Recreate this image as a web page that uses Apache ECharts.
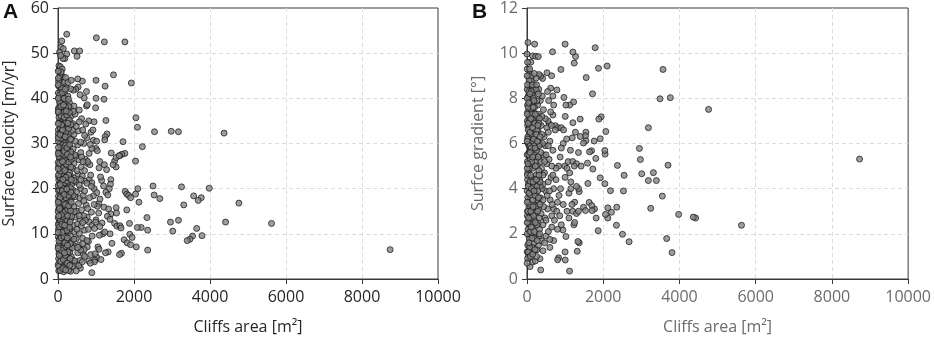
<!DOCTYPE html>
<html><head><meta charset="utf-8">
<script src="https://cdn.jsdelivr.net/npm/echarts@6/dist/echarts.min.js"></script>
<style>html,body{margin:0;padding:0;background:#fff}#c{width:934px;height:340px}</style>
</head><body><div id="c"></div>
<script>
// Panel A: cliffs area [m2] vs surface velocity [m/yr]
const xTicks = [0, 2000, 4000, 6000, 8000, 10000];
const velTicks = [0, 10, 20, 30, 40, 50, 60];
const gradTicks = [0, 2, 4, 6, 8, 10, 12];

const velocitySparse = [[8740,6.5],[5620,12.3],[4760,16.8],[4410,12.6],[4370,32.3],[3980,20.1],[3790,9.6],[3770,18.0],[3690,17.4],[3650,11.2],[3570,18.4],[3540,9.5],[3470,8.8],[3400,8.5],[3310,16.4],[3250,20.4],[3170,13.0],[3170,32.6],[2980,32.7],[3020,10.6],[2960,12.6],[2680,17.8],[2540,32.6],[2530,18.6],[2500,20.6],[2360,6.4],[2360,10.8],[2340,13.6],[2220,29.3],[2190,11.4],[2130,17.0],[2100,20.0],[2090,11.4],[2090,33.6],[2050,35.7],[2040,18.8],[2040,26.1],[2060,7.1],[1930,43.4],[1760,52.5],[1760,27.8],[1710,30.4],[1770,19.4],[1810,18.8],[1860,18.5],[1910,18.0],[1810,15.3],[1880,12.3],[1890,9.9],[1950,9.2],[1740,8.7],[1820,8.0],[1910,7.6],[1670,5.7],[1620,5.4],[1680,27.6],[1620,27.3],[1460,45.2],[1490,26.1],[1530,24.8],[1450,25.3],[1530,15.8],[1540,14.6],[1400,27.9],[1390,22.0],[1380,21.0],[1350,20.0],[1260,35.1],[1290,32.1],[1240,31.5],[1230,30.8],[1220,52.5],[1010,53.4],[1240,42.7],[1210,39.8],[1000,44.0],[1000,40.0],[990,37.9]];

const velocityMid = [[1000,28.9],[1035,28.4],[930,30.7],[1017,30.5],[1530,26.9],[1610,27.3],[1100,26.0],[1220,25.3],[1280,24.2],[1210,15.9],[1330,15.5],[1390,14.4],[1300,13.9],[1370,13.2],[1070,16.7],[1035,16.1],[1490,12.3],[1550,11.7],[1630,11.8],[1660,11.3],[1370,10.0],[1420,7.9],[1320,6.0],[1250,5.8],[1180,10.0],[1090,9.7],[1050,7.1],[1020,4.8],[965,4.2],[960,3.8],[860,5.4],[810,4.0],[890,1.4],[590,2.4],[580,4.1],[800,8.3],[770,7.1],[690,6.5],[670,5.4],[770,13.7],[820,12.6],[900,11.9],[960,11.2],[820,22.0],[890,21.3],[950,20.0],[1020,19.1],[930,18.4],[1105,17.7],[820,27.8],[890,28.9],[720,26.5],[770,25.6],[840,25.3],[810,35.0],[950,34.8],[730,34.3],[750,38.3],[690,40.1],[770,38.6],[1150,21.8],[1200,20.6],[1260,19.2],[1120,22.6],[1310,18.6],[1080,24.6],[1160,12.4],[1100,11.6],[1230,10.4],[1000,13.1],[1070,14.6]];

const velocityDense = [[20,1.8],[60,2.5],[150,1.6],[220,3.0],[330,1.7],[120,3.4],[40,3.6],[280,2.4],[470,3.3],[390,4.2],[15,4.5],[90,5.1],[180,4.6],[260,5.5],[350,5.0],[520,5.8],[440,4.0],[600,6.4],[30,6.2],[130,6.8],[210,7.1],[300,6.6],[410,7.4],[560,7.5],[50,7.9],[160,8.2],[240,8.6],[360,8.1],[480,8.9],[650,9.0],[10,9.3],[100,9.7],[190,9.9],[270,10.2],[330,9.5],[440,10.4],[560,10.1],[700,10.8],[40,10.9],[140,11.3],[220,11.6],[310,11.1],[400,11.9],[520,12.2],[610,11.7],[20,12.4],[80,12.8],[170,13.1],[250,12.9],[340,13.4],[460,13.7],[580,13.2],[680,14.0],[50,14.1],[120,14.5],[200,14.3],[290,14.8],[380,14.6],[500,15.0],[620,15.3],[15,15.4],[90,15.9],[160,16.2],[230,15.7],[320,16.4],[420,16.0],[540,16.7],[740,16.4],[35,16.9],[110,17.3],[190,17.6],[270,17.1],[350,17.8],[450,18.2],[580,17.9],[660,18.5],[10,18.3],[70,18.8],[140,19.1],[220,19.4],[300,18.9],[390,19.7],[490,19.3],[600,20.0],[40,20.2],[120,20.6],[200,20.9],[280,20.4],[370,21.1],[470,21.5],[560,20.8],[700,21.7],[20,21.9],[90,22.2],[170,22.6],[250,22.0],[330,22.9],[430,22.4],[530,23.2],[640,22.8],[50,23.5],[130,23.8],[210,24.2],[300,23.6],[390,24.5],[500,24.0],[610,24.8],[15,24.9],[80,25.3],[160,25.7],[240,25.1],[320,26.0],[420,25.6],[550,26.4],[40,26.6],[110,26.9],[190,27.3],[270,26.8],[360,27.6],[470,27.2],[600,28.0],[20,28.2],[70,28.6],[150,28.9],[230,28.4],[310,29.3],[400,28.8],[520,29.7],[50,29.9],[120,30.3],[200,30.6],[280,30.1],[360,31.0],[460,30.5],[30,31.4],[90,31.8],[170,32.2],[250,31.6],[330,32.5],[420,32.0],[540,32.8],[10,33.0],[60,33.4],[140,33.7],[220,33.2],[300,34.0],[390,34.4],[480,33.8],[40,34.9],[110,35.3],[190,35.0],[270,35.6],[350,36.1],[450,36.5],[20,36.7],[80,37.2],[160,36.9],[240,37.6],[320,38.0],[420,38.3],[50,38.6],[130,39.0],[210,39.4],[300,39.1],[30,40.2],[100,40.6],[180,41.0],[260,40.5],[60,41.5],[140,41.9],[230,42.3],[20,42.7],[90,43.1],[170,43.6],[40,44.2],[120,44.8],[70,45.5],[30,46.3],[5,3.2],[25,5.6],[8,7.3],[45,8.9],[12,11.0],[30,13.3],[6,14.9],[55,16.1],[18,17.5],[8,19.6],[35,21.0],[12,22.7],[60,24.1],[5,25.8],[28,27.5],[10,29.1],[45,30.8],[8,32.1],[25,35.8],[12,37.8],[35,39.3],[8,41.2],[15,43.8],[50,45.0],[25,47.2],[60,47.0],[230,54.2],[100,52.7],[80,51.3],[140,51.0],[40,50.2],[430,50.5],[570,50.5],[500,49.3],[230,49.8],[180,48.8],[130,48.8],[640,43.8],[530,42.5],[470,42.0],[750,41.5],[400,41.8],[580,40.8],[870,32.5],[920,33.0],[760,31.3],[680,30.0],[850,29.8],[620,27.0],[780,26.0],[700,24.0],[860,23.0],[760,21.2],[880,20.5],[700,19.5],[830,18.0],[950,16.5],[780,15.6],[880,14.8],[720,13.0],[990,12.6],[650,12.5],[800,11.0],[900,9.5],[760,8.5],[650,7.8],[700,5.0],[850,3.5],[550,3.0],[480,1.8],[980,5.6],[1080,6.6],[1130,4.3],[150,10.6],[260,12.0],[360,13.9],[100,15.0],[200,16.8],[300,17.4],[400,18.5],[160,19.9],[260,21.4],[60,22.4],[340,24.8],[180,26.2],[60,27.9],[260,29.4],[150,31.2],[380,32.9],[210,34.6],[80,36.1],[280,38.2],[160,40.0],[330,42.1],[200,44.6],[110,46.5],[70,49.5],[90,4.0],[170,2.6],[240,4.1],[310,5.9],[380,6.9],[110,8.4],[200,9.4],[50,11.8],[430,14.9],[130,17.8],[230,18.2],[330,20.2],[420,21.8],[100,23.3],[440,27.5],[340,28.1],[200,29.6],[100,32.7],[300,35.2],[400,37.1],[200,38.1],[100,42.2],[260,43.5],[350,44.0],[520,44.3],[560,37.4],[620,35.5],[560,34.8],[650,33.0],[700,31.8],[600,30.3],[660,26.0],[600,22.0],[680,17.3],[560,14.0],[500,11.0],[420,8.8],[520,7.0],[640,3.8],[380,2.8],[280,1.9]];

const velocityCore = [[15,2.8],[70,3.9],[140,4.3],[200,5.2],[260,6.0],[320,7.8],[25,8.4],[85,9.1],[160,9.4],[230,10.8],[300,11.5],[10,12.0],[60,13.0],[130,13.8],[190,14.9],[260,15.4],[330,15.1],[20,16.3],[80,17.0],[150,17.6],[210,18.0],[280,18.5],[340,19.2],[30,19.8],[100,20.3],[170,21.3],[240,21.7],[310,22.3],[15,23.1],[75,23.9],[145,24.6],[215,25.4],[285,25.9],[350,26.5],[25,27.1],[95,27.8],[165,28.3],[235,29.0],[305,29.8],[10,30.5],[70,31.1],[140,31.9],[210,32.6],[280,33.3],[340,34.2],[30,34.5],[95,34.1],[165,35.8],[235,36.3],[300,36.9],[15,37.5],[75,38.2],[145,38.5],[215,37.2],[275,39.8],[45,40.8],[115,41.3],[190,42.0],[10,44.5],[85,45.8],[55,18.0],[115,19.5],[185,16.5],[250,14.0],[320,12.6],[40,11.5],[110,10.3],[180,8.0],[250,7.5],[320,4.5],[35,5.2],[100,6.3],[170,5.8],[240,3.5],[310,3.0],[60,1.9],[130,2.3],[200,2.0],[5,6.8],[5,10.3],[5,13.6],[5,17.0],[5,20.7],[5,24.4],[5,27.8],[5,31.3],[5,34.4],[5,37.0],[5,40.0],[5,43.0],[5,46.0],[40,15.6],[105,12.1],[175,11.9],[245,9.1],[45,25.6],[120,26.0],[180,24.0],[250,27.6],[55,32.0],[120,33.0],[190,31.5],[260,34.5],[330,30.9],[330,27.0],[280,23.0],[350,22.0],[200,22.5],[130,22.0],[60,20.9],[280,16.2],[350,17.0],[230,19.9],[160,18.7],[90,14.2],[20,14.0]];

// Panel B: cliffs area [m2] vs surface gradient [deg]
const gradientSparse = [[8726,5.31],[5628,2.38],[4764,7.51],[4424,2.70],[4363,2.74],[3979,2.86],[3805,1.17],[3761,8.03],[3665,1.79],[3700,5.04],[3569,9.28],[3551,3.67],[3490,7.98],[3394,4.36],[3316,4.71],[3246,3.13],[3185,4.36],[3185,6.70],[3010,4.66],[2975,5.29],[2950,5.78],[2679,1.65],[2530,3.90],[2548,4.59],[2505,1.98],[2373,5.03],[2356,3.18],[2347,2.38],[2216,2.96],[2190,3.91],[2103,9.43],[2068,6.53],[2120,3.15],[2120,2.70],[2059,2.86],[2050,5.53],[2042,5.69],[2042,4.22],[1946,7.18],[1885,7.08],[1876,9.33],[1789,10.24],[1719,8.20],[1920,6.21],[1920,4.48],[1867,2.14],[1815,2.70],[1771,3.10],[1806,5.34],[1763,6.11],[1728,4.87],[1693,5.68],[1641,5.63],[1597,4.23],[1553,8.92],[1632,3.39],[1701,3.25],[1710,3.03],[1545,6.50],[1536,6.34],[1545,6.12],[1588,5.13],[1483,6.02],[1396,6.31],[1396,7.08],[1483,3.18],[1536,3.03],[1370,3.87],[1353,4.00],[1370,1.60],[1335,1.66],[1318,1.23],[1274,9.85],[1239,9.56],[1204,10.05],[1222,7.84],[1204,6.92],[1187,6.25],[1000,10.40],[670,10.06],[890,9.28],[1117,7.70],[1021,7.70],[969,8.04],[1003,7.20],[1117,0.35],[1003,0.84],[829,0.94],[803,0.85],[1021,1.88],[942,2.17],[785,8.37],[680,8.10],[620,8.45],[567,7.90],[680,7.26],[585,6.86],[742,6.79],[645,9.00],[524,9.13],[410,8.88],[358,8.98],[314,9.05],[78,9.08],[0,9.96],[26,10.47],[200,10.40],[148,9.88],[227,9.86],[297,9.85]];

const gradientMid = [[540,8.3],[700,7.7],[620,7.4],[550,7.0],[820,6.7],[900,6.7],[950,6.0],[870,5.4],[990,5.0],[760,4.4],[880,4.0],[1000,4.5],[840,3.7],[950,3.3],[1050,3.0],[700,3.1],[650,2.8],[900,2.4],[800,2.2],[1100,2.7],[700,1.7],[600,1.4],[1000,1.2],[1050,4.9],[1120,4.7],[1080,5.2],[1150,4.3],[1200,5.2],[1300,5.1],[1250,3.4],[1200,3.0],[1300,2.9],[1350,3.0],[1100,3.8],[1150,4.0],[1270,6.5],[1350,5.6],[1420,5.0],[1230,2.4],[1250,2.5],[960,6.6],[1040,6.2],[900,5.8],[830,5.0],[780,3.0],[860,2.8],[1140,5.7],[1240,5.0],[1300,4.1],[1180,3.3]];

const gradientDense = [[80,0.55],[150,0.75],[40,1.0],[220,0.8],[340,0.9],[360,0.4],[120,1.2],[260,1.3],[20,1.5],[300,1.5],[420,1.25],[180,1.6],[60,1.8],[380,1.7],[460,1.6],[110,1.95],[240,2.0],[500,1.9],[600,1.75],[30,2.2],[160,2.3],[330,2.2],[420,2.4],[560,2.1],[80,2.5],[210,2.6],[290,2.5],[470,2.7],[650,2.3],[10,2.8],[130,2.9],[250,3.0],[370,2.9],[540,3.1],[720,2.6],[50,3.2],[190,3.3],[310,3.4],[440,3.2],[610,3.5],[20,3.6],[100,3.7],[230,3.8],[350,3.6],[490,3.9],[800,3.4],[60,4.0],[170,4.1],[280,4.2],[400,4.0],[560,4.3],[700,4.0],[15,4.4],[120,4.5],[240,4.6],[330,4.4],[460,4.7],[630,4.5],[40,4.8],[150,4.9],[270,5.0],[380,4.9],[520,5.1],[760,4.9],[10,5.2],[90,5.3],[200,5.4],[310,5.3],[430,5.5],[580,5.3],[50,5.6],[160,5.7],[260,5.8],[360,5.6],[480,5.9],[680,5.7],[25,6.0],[110,6.1],[220,6.2],[340,6.0],[450,6.3],[600,6.1],[70,6.4],[180,6.5],[290,6.6],[400,6.4],[520,6.7],[740,6.6],[15,6.8],[130,6.9],[250,7.0],[370,6.8],[480,7.1],[50,7.2],[170,7.4],[300,7.3],[430,7.5],[90,7.7],[210,7.8],[350,7.9],[30,8.1],[140,8.2],[260,8.3],[400,8.1],[70,8.5],[190,8.6],[310,8.4],[110,8.8],[240,8.9],[40,9.0],[5,1.2],[8,2.0],[12,3.0],[5,3.9],[18,4.7],[6,5.5],[22,6.3],[8,7.0],[15,7.7],[5,8.4],[30,2.5],[40,3.4],[35,4.2],[45,5.0],[55,5.9],[60,6.7],[70,7.5],[45,8.3],[100,2.7],[200,2.9],[300,3.1],[420,3.5],[530,3.7],[90,4.3],[210,4.4],[310,4.8],[420,4.2],[650,5.0],[120,5.1],[230,5.2],[360,5.2],[500,5.5],[80,5.9],[190,5.9],[300,6.1],[410,6.0],[560,6.5],[130,6.4],[250,6.6],[150,7.1],[390,7.2],[60,7.9],[280,7.7],[160,8.5],[90,2.1],[200,1.8],[320,1.9],[140,1.4],[250,1.0],[60,1.3],[640,6.8],[560,5.9],[680,4.6],[590,3.9],[660,3.3],[500,2.6],[420,4.6],[350,4.1],[250,3.5],[150,3.9],[30,6.6],[20,7.4],[120,7.5],[260,4.1],[460,5.2]];

const gradientCore = [[15,0.9],[70,1.4],[130,1.8],[190,2.1],[260,2.4],[320,2.7],[25,3.0],[85,3.3],[150,3.5],[210,3.7],[280,3.9],[340,4.3],[10,4.6],[60,4.9],[125,5.2],[185,5.5],[250,5.7],[315,5.9],[20,6.2],[80,6.5],[145,6.7],[205,6.9],[270,7.2],[330,7.1],[35,7.6],[95,8.0],[170,8.0],[235,8.4],[300,8.2],[55,8.8],[125,9.0],[190,9.1],[5,9.3],[100,9.6],[50,1.6],[110,2.3],[170,2.8],[230,3.2],[300,3.6],[30,4.1],[95,4.6],[160,4.3],[220,5.0],[290,5.4],[45,5.5],[110,5.8],[175,6.2],[240,6.4],[310,6.9],[65,7.0],[130,7.3],[195,7.6],[260,7.9],[10,8.6],[70,9.3],[140,8.6],[5,0.7],[5,2.5],[5,3.4],[5,4.9],[5,6.1],[5,7.3],[5,8.0],[5,9.0],[30,1.2],[90,1.0],[150,1.1],[210,1.3],[270,1.7],[330,2.0],[40,2.7],[100,3.0],[160,3.2],[220,2.5],[280,3.0],[340,3.3],[55,3.8],[120,4.0],[185,3.9],[250,4.4],[315,4.6],[25,5.1],[85,5.6],[150,5.4],[210,5.8],[275,6.1],[340,6.3],[35,6.9],[100,7.1],[160,7.6],[220,7.3],[285,6.8],[45,7.8],[115,8.3],[180,7.9],[250,8.6],[15,9.6],[75,8.2]];

const velocity = velocitySparse.concat(velocityMid, velocityDense, velocityCore);
const gradient = gradientSparse.concat(gradientMid, gradientDense, gradientCore);

const FONT = 'Open Sans';
const FS = 16;
const darkText = '#262626';
const greyText = '#6b6b6b';
const frame = '#3a3a3a';
const plain = v => String(v);

function xAxis(idx, color) {
  return {
    gridIndex: idx, type: 'value', min: xTicks[0], max: xTicks[xTicks.length - 1], interval: xTicks[1] - xTicks[0],
    name: 'Cliffs area [m²]', nameLocation: 'middle', nameGap: 40,
    nameTextStyle: { color: color, fontFamily: FONT, fontSize: FS },
    axisLine: { show: true, onZero: false, lineStyle: { color: frame, width: 1 } },
    axisTick: { show: true, inside: false, length: 5, lineStyle: { color: frame } },
    axisLabel: { color: color, fontFamily: FONT, fontSize: FS, margin: 10, formatter: plain },
    splitLine: { show: true, showMinLine: false, showMaxLine: false, lineStyle: { color: '#dcdcdc', type: [4, 3], width: 1 } }
  };
}
function yAxis(idx, ticks, name, color) {
  return {
    gridIndex: idx, type: 'value', min: ticks[0], max: ticks[ticks.length - 1], interval: ticks[1] - ticks[0],
    name: name, nameLocation: 'middle', nameGap: 41,
    nameTextStyle: { color: color, fontFamily: FONT, fontSize: FS },
    axisLine: { show: true, onZero: false, lineStyle: { color: frame, width: 1 } },
    axisTick: { show: true, inside: false, length: 5, lineStyle: { color: frame } },
    axisLabel: { color: color, fontFamily: FONT, fontSize: FS, margin: 9, formatter: plain },
    splitLine: { show: true, showMinLine: false, showMaxLine: false, lineStyle: { color: '#dcdcdc', type: [4, 3], width: 1 } }
  };
}
const pointStyle = { color: '#858585', borderColor: '#111', borderWidth: 0.9 };

const chart = echarts.init(document.getElementById('c'), null, { renderer: 'canvas' });
chart.setOption({
  animation: false,
  backgroundColor: '#fff',
  grid: [
    { left: 58, top: 8, width: 380, height: 277, show: true, borderColor: frame, borderWidth: 1, backgroundColor: 'transparent' },
    { left: 527, top: 8, width: 382, height: 277, show: true, borderColor: frame, borderWidth: 1, backgroundColor: 'transparent' }
  ],
  xAxis: [xAxis(0, darkText), xAxis(1, greyText)],
  yAxis: [yAxis(0, velTicks, 'Surface velocity [m/yr]', darkText), yAxis(1, gradTicks, 'Surfce gradient [°]', greyText)],
  graphic: [
    { type: 'text', left: 3, top: 2, style: { text: 'A', fill: '#111', font: 'bold 21px "Liberation Sans", Arial, sans-serif' } },
    { type: 'text', left: 472, top: 2, style: { text: 'B', fill: '#111', font: 'bold 21px "Liberation Sans", Arial, sans-serif' } }
  ],
  series: [
    { type: 'scatter', xAxisIndex: 0, yAxisIndex: 0, data: velocity, symbolSize: 6, itemStyle: pointStyle },
    { type: 'scatter', xAxisIndex: 1, yAxisIndex: 1, data: gradient, symbolSize: 6, itemStyle: pointStyle }
  ]
});
</script></body></html>
